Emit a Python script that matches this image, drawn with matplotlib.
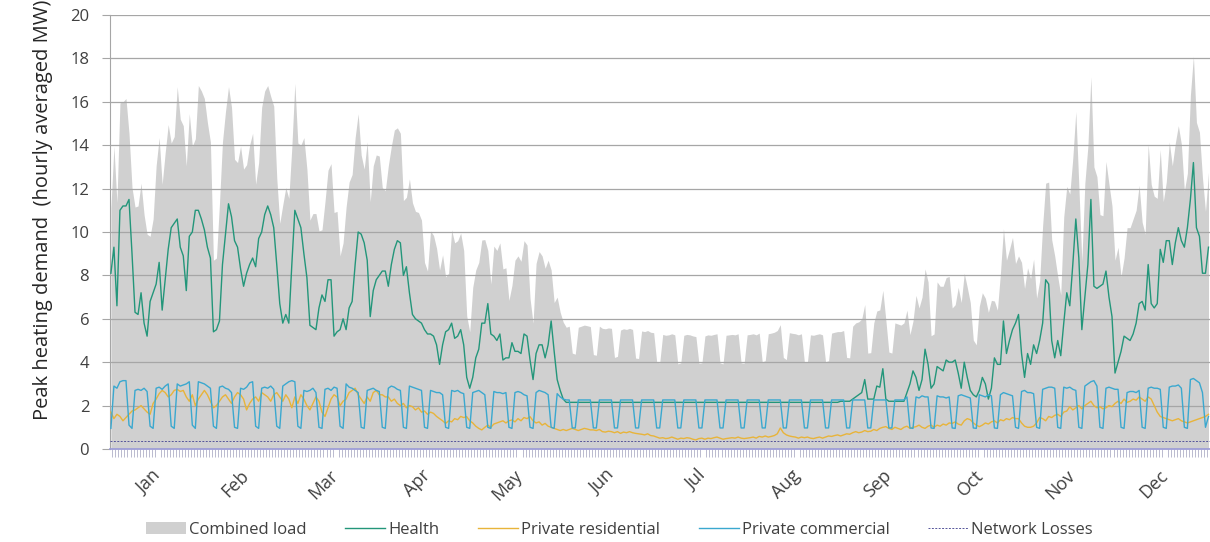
import numpy as np
import matplotlib.pyplot as plt
from matplotlib.patches import Patch
from matplotlib.lines import Line2D

# categories
months = ['Jan', 'Feb', 'Mar', 'Apr', 'May', 'Jun', 'Jul', 'Aug', 'Sep', 'Oct', 'Nov', 'Dec']
month_days = [31, 28, 31, 30, 31, 30, 31, 31, 30, 31, 30, 31]

# daily peak demand (MW), one row per month
health = [
    8.1, 9.3, 6.6, 11.0, 11.2, 11.2, 11.5, 9.0, 6.3, 6.2, 7.2, 5.8, 5.2, 6.8, 7.2, 7.6, 8.6, 6.4, 7.8, 9.2,
    10.2, 10.4, 10.6, 9.3, 8.9, 7.3, 9.8, 10.0, 11.0, 11.0, 10.6,
    10.1, 9.3, 8.8, 5.4, 5.5, 5.9, 8.5, 9.9, 11.3, 10.7, 9.6, 9.3, 8.3, 7.5, 8.1, 8.5, 8.8, 8.4, 9.7, 10.0,
    10.8, 11.2, 10.8, 10.2, 8.5, 6.7, 5.8, 6.2,
    5.8, 8.5, 11.0, 10.6, 10.2, 9.0, 7.9, 5.7, 5.6, 5.5, 6.5, 7.1, 6.8, 7.8, 7.8, 5.2, 5.4, 5.5, 6.0, 5.5,
    6.5, 6.8, 8.5, 10.0, 9.9, 9.5, 8.7, 6.1, 7.3, 7.8, 8.0,
    8.2, 8.2, 7.5, 8.5, 9.2, 9.6, 9.5, 8.0, 8.4, 7.2, 6.2, 6.0, 5.9, 5.8, 5.5, 5.3, 5.3, 5.2, 4.8, 3.9,
    4.8, 5.4, 5.5, 5.8, 5.1, 5.2, 5.5, 4.8, 3.3, 2.8,
    3.3, 4.2, 4.6, 5.8, 5.8, 6.7, 5.3, 5.2, 5.0, 5.3, 4.1, 4.2, 4.2, 4.9, 4.5, 4.5, 4.4, 5.3, 5.2, 4.1,
    3.2, 4.4, 4.8, 4.8, 4.2, 4.8, 5.9, 4.5, 3.2, 2.7, 2.3,
    2.15, 2.15, 2.15, 2.15, 2.15, 2.15, 2.15, 2.15, 2.15, 2.15, 2.15, 2.15, 2.15, 2.15, 2.15,
    2.15, 2.15, 2.15, 2.15, 2.15, 2.15, 2.15, 2.15, 2.15, 2.15, 2.15, 2.15, 2.15, 2.15, 2.15,
    2.15, 2.15, 2.15, 2.15, 2.15, 2.15, 2.15, 2.15, 2.15, 2.15, 2.15, 2.15, 2.15, 2.15, 2.15, 2.15,
    2.15, 2.15, 2.15, 2.15, 2.15, 2.15, 2.15, 2.15, 2.15, 2.15, 2.15, 2.15, 2.15, 2.15, 2.15,
    2.15, 2.15, 2.15, 2.15, 2.15, 2.15, 2.15, 2.15, 2.15, 2.15, 2.15, 2.15, 2.15, 2.15, 2.15, 2.15,
    2.15, 2.15, 2.15, 2.15, 2.15, 2.15, 2.15, 2.15, 2.15, 2.15, 2.15, 2.15, 2.15, 2.15, 2.2,
    2.2, 2.2, 2.2, 2.3, 2.4, 2.5, 2.6, 3.2, 2.3, 2.3, 2.3, 2.9, 2.85, 3.7, 2.3, 2.2, 2.2, 2.2, 2.2, 2.2,
    2.2, 2.6, 3.0, 3.6, 3.3, 2.7, 3.2, 4.6, 3.9, 2.8,
    3.0, 3.8, 3.7, 3.6, 4.1, 4.0, 4.0, 4.1, 3.5, 2.8, 4.0, 3.3, 2.7, 2.5, 2.4, 2.7, 3.3, 3.0, 2.3, 2.8,
    4.2, 3.9, 3.9, 5.9, 4.4, 5.0, 5.5, 5.8, 6.2, 4.4, 3.3,
    4.4, 3.9, 4.8, 4.4, 5.0, 5.8, 7.8, 7.6, 5.0, 4.2, 5.0, 4.3, 5.8, 7.2, 6.6, 8.5, 10.6, 8.8, 5.5, 7.0,
    8.5, 11.5, 7.5, 7.4, 7.5, 7.6, 8.2, 7.0, 6.1, 3.5,
    4.0, 4.5, 5.2, 5.1, 5.0, 5.3, 5.8, 6.7, 6.8, 6.4, 8.5, 6.7, 6.5, 6.7, 9.2, 8.6, 9.6, 9.6, 8.5, 9.5,
    10.2, 9.6, 9.3, 10.2, 11.5, 13.2, 10.2, 9.8, 8.1, 8.1, 9.3,
]

residential = [
    1.7, 1.4, 1.6, 1.5, 1.3, 1.45, 1.6, 1.75, 1.8, 1.9, 2.0, 1.85, 1.7, 1.6, 2.1, 2.3, 2.55, 2.7, 2.6, 2.4,
    2.5, 2.7, 2.75, 2.65, 2.7, 2.4, 2.2, 2.5, 2.0, 2.3, 2.5,
    2.7, 2.5, 2.2, 1.9, 2.0, 2.2, 2.4, 2.5, 2.3, 2.1, 2.4, 2.6, 2.5, 2.3, 1.8, 2.1, 2.3, 2.4, 2.2, 2.6,
    2.5, 2.4, 2.2, 2.5, 2.6, 2.4, 2.2, 2.5,
    2.3, 1.9, 2.4, 2.1, 2.5, 2.3, 2.0, 1.8, 2.1, 2.4, 2.2, 1.7, 1.5, 1.9, 2.3, 2.5, 2.4, 2.0, 2.2, 2.3,
    2.6, 2.7, 2.8, 2.5, 2.3, 2.1, 2.4, 2.2, 2.6, 2.7, 2.5,
    2.5, 2.4, 2.4, 2.2, 2.3, 2.1, 2.0, 2.1, 1.9, 2.0, 1.95, 1.8, 1.9, 1.7, 1.75, 1.6, 1.7, 1.64, 1.5, 1.4,
    1.3, 1.18, 1.3, 1.25, 1.4, 1.35, 1.5, 1.45, 1.49, 1.3,
    1.2, 1.05, 0.95, 0.88, 1.0, 1.1, 1.0, 1.15, 1.2, 1.25, 1.3, 1.2, 1.3, 1.34, 1.25, 1.4, 1.3, 1.45, 1.4, 1.49,
    1.3, 1.2, 1.25, 1.1, 1.18, 1.05, 1.0, 0.95, 0.9, 0.85, 0.9,
    0.85, 0.9, 0.95, 0.9, 0.85, 0.9, 0.95, 0.92, 0.88, 0.88, 0.85, 0.9, 0.8, 0.78, 0.82, 0.8, 0.75, 0.8, 0.72, 0.78,
    0.75, 0.8, 0.75, 0.72, 0.7, 0.68, 0.65, 0.7, 0.62, 0.6,
    0.55, 0.5, 0.52, 0.48, 0.5, 0.55, 0.5, 0.45, 0.5, 0.48, 0.52, 0.5, 0.45, 0.42, 0.48, 0.5, 0.45, 0.5, 0.48, 0.52,
    0.55, 0.5, 0.45, 0.48, 0.5, 0.52, 0.5, 0.55, 0.5, 0.48, 0.5,
    0.52, 0.55, 0.5, 0.58, 0.55, 0.6, 0.55, 0.58, 0.62, 0.7, 0.97, 0.75, 0.65, 0.6, 0.57, 0.55, 0.5, 0.55, 0.52, 0.55,
    0.5, 0.48, 0.52, 0.55, 0.5, 0.55, 0.6, 0.58, 0.62, 0.65, 0.6,
    0.65, 0.7, 0.68, 0.75, 0.8, 0.75, 0.78, 0.85, 0.8, 0.82, 0.9, 0.85, 0.95, 1.0, 1.03, 0.95, 0.9, 1.0, 0.95, 0.9,
    1.0, 1.05, 0.95, 1.0, 1.03, 1.1, 1.0, 0.95, 1.05, 1.1,
    1.0, 1.1, 1.05, 1.15, 1.1, 1.2, 1.18, 1.25, 1.15, 1.1, 1.3, 1.4, 1.35, 1.2, 1.1, 1.03, 1.1, 1.2, 1.15, 1.25,
    1.3, 1.2, 1.35, 1.3, 1.4, 1.35, 1.45, 1.4, 1.4, 1.2, 1.05,
    1.0, 1.0, 1.05, 1.2, 1.45, 1.4, 1.3, 1.5, 1.45, 1.55, 1.6, 1.5, 1.7, 1.75, 1.95, 1.8, 1.9, 2.0, 1.85, 2.0,
    2.1, 2.2, 2.0, 1.9, 1.95, 1.85, 1.9, 2.0, 1.95, 2.1,
    2.2, 2.1, 2.3, 2.15, 2.2, 2.3, 2.25, 2.4, 2.3, 2.2, 2.4, 2.3, 2.0, 1.7, 1.5, 1.45, 1.4, 1.35, 1.3, 1.35,
    1.4, 1.3, 1.25, 1.2, 1.25, 1.3, 1.35, 1.4, 1.45, 1.5, 1.6,
]

# one row per week: Sun, Mon ... Fri, Sat
commercial = [
    0.95, 2.9, 2.8, 3.1, 3.15, 3.15, 1.1,
    0.95, 2.7, 2.75, 2.7, 2.8, 2.65, 1.05,
    0.95, 2.8, 2.85, 2.75, 2.9, 3.0, 1.05,
    0.95, 3.0, 2.9, 2.95, 3.0, 3.1, 1.1,
    0.95, 3.1, 3.05, 3.0, 2.9, 2.8, 1.05,
    0.95, 2.85, 2.9, 2.8, 2.75, 2.6, 1.0,
    0.95, 2.8, 2.75, 2.85, 3.05, 3.1, 1.05,
    0.95, 2.8, 2.85, 2.8, 2.9, 2.75, 1.05,
    0.95, 2.9, 3.0, 3.1, 3.15, 3.1, 1.05,
    0.95, 2.7, 2.65, 2.7, 2.8, 2.6, 1.0,
    0.95, 2.75, 2.8, 2.7, 2.85, 2.8, 1.05,
    0.95, 3.0, 2.85, 2.8, 2.7, 2.6, 1.0,
    0.95, 2.7, 2.75, 2.8, 2.7, 2.65, 1.0,
    0.95, 2.8, 2.9, 2.85, 2.75, 2.7, 1.0,
    0.95, 2.9, 2.85, 2.8, 2.75, 2.7, 1.0,
    0.95, 2.7, 2.65, 2.6, 2.6, 2.5, 1.0,
    0.95, 2.7, 2.65, 2.7, 2.6, 2.55, 1.0,
    0.95, 2.6, 2.65, 2.7, 2.6, 2.5, 1.0,
    0.95, 2.65, 2.6, 2.6, 2.55, 2.6, 1.0,
    0.95, 2.6, 2.65, 2.6, 2.5, 2.45, 1.0,
    0.95, 2.6, 2.7, 2.65, 2.6, 2.5, 1.0,
    0.95, 2.55, 2.4, 2.3, 2.26, 2.26, 0.97,
    0.97, 2.26, 2.26, 2.26, 2.26, 2.26, 0.97,
    0.97, 2.26, 2.26, 2.26, 2.26, 2.26, 0.97,
    0.97, 2.26, 2.26, 2.26, 2.26, 2.26, 0.97,
    0.97, 2.26, 2.26, 2.26, 2.26, 2.26, 0.97,
    0.97, 2.26, 2.26, 2.26, 2.26, 2.26, 0.97,
    0.97, 2.26, 2.26, 2.26, 2.26, 2.26, 0.97,
    0.97, 2.26, 2.26, 2.26, 2.26, 2.26, 0.97,
    0.97, 2.26, 2.26, 2.26, 2.26, 2.26, 0.97,
    0.97, 2.26, 2.26, 2.26, 2.26, 2.26, 0.97,
    0.97, 2.26, 2.26, 2.26, 2.26, 2.26, 0.97,
    0.97, 2.26, 2.26, 2.26, 2.26, 2.26, 0.97,
    0.97, 2.26, 2.26, 2.26, 2.26, 2.26, 0.97,
    0.97, 2.26, 2.26, 2.26, 2.26, 2.26, 0.97,
    0.97, 2.26, 2.26, 2.26, 2.26, 2.26, 0.97,
    0.97, 2.26, 2.26, 2.26, 2.26, 2.26, 0.97,
    0.97, 2.26, 2.26, 2.26, 2.26, 2.4, 0.97,
    0.95, 2.4, 2.35, 2.45, 2.4, 2.4, 0.97,
    0.95, 2.45, 2.4, 2.4, 2.35, 2.4, 0.97,
    0.95, 2.45, 2.5, 2.45, 2.4, 2.35, 0.97,
    0.95, 2.5, 2.45, 2.4, 2.5, 2.45, 0.97,
    0.95, 2.5, 2.6, 2.55, 2.5, 2.45, 1.0,
    0.95, 2.65, 2.7, 2.6, 2.6, 2.55, 1.0,
    0.95, 2.75, 2.8, 2.85, 2.85, 2.8, 1.0,
    0.95, 2.85, 2.8, 2.85, 2.75, 2.7, 1.0,
    0.95, 2.9, 3.0, 3.1, 3.15, 2.9, 1.0,
    0.95, 2.8, 2.85, 2.8, 2.75, 2.75, 1.0,
    0.95, 2.6, 2.65, 2.65, 2.6, 2.7, 1.0,
    0.95, 2.8, 2.85, 2.8, 2.8, 2.75, 1.0,
    0.95, 2.85, 2.9, 2.9, 2.95, 2.8, 1.0,
    0.95, 3.2, 3.25, 3.15, 3.05, 2.6, 1.0,
    1.5,
]

network_losses = 0.35

assert len(health) == len(residential) == len(commercial) == sum(month_days)

days = np.arange(len(health))
losses = np.full(len(days), network_losses)
# combined load is the sum of the four parts
combined = np.vstack([health, residential, commercial, losses]).sum(axis=0)

plt.rcParams['font.family'] = ['Open Sans', 'DejaVu Sans']

fig = plt.figure(figsize=(12.1, 5.42), dpi=100)
ax = fig.add_axes([110 / 1210, 93 / 542, 1100 / 1210, 434 / 542])

grey = '#d0d0d0'
c_health = '#23967a'
c_res = '#e8b43a'
c_com = '#3aa8cf'
c_loss = '#55559a'

ax.fill_between(days, 0, combined, color=grey, lw=0, zorder=1)
ax.plot(days, health, color=c_health, lw=1.0, zorder=3)
ax.plot(days, residential, color=c_res, lw=1.0, zorder=3)
ax.plot(days, commercial, color=c_com, lw=1.0, zorder=3)
ax.axhline(network_losses, color=c_loss, lw=0.7, ls=(0, (2, 1.5)), zorder=3)

ax.set_xlim(-0.3, 364.3)
ax.set_ylim(0, 20)
ax.set_yticks(np.arange(0, 21, 2))
ax.set_axisbelow('line')
ax.yaxis.grid(True, color='#a6a6a6', lw=0.9)

starts = np.cumsum([0] + month_days[:-1])
mids = starts + np.array(month_days) / 2
ax.set_xticks(mids)
ax.set_xticklabels(months, rotation=45, ha='right', va='center', rotation_mode='anchor')
ax.set_xticks(days + 0.5, minor=True)
ax.tick_params(axis='x', which='major', length=0, pad=17, labelsize=13, labelcolor='#404040')
ax.tick_params(axis='x', which='minor', length=6, width=0.6, color='#b0b0c8')
ax.tick_params(axis='y', length=6, width=0.8, color='#a6a6a6', pad=9, labelsize=12, labelcolor='#404040')

for s in ['top', 'right']:
    ax.spines[s].set_visible(False)
ax.spines['left'].set_color('#a6a6a6')
ax.spines['bottom'].set_color('#9a9ad8')
ax.spines['bottom'].set_linewidth(1.2)

ax.set_ylabel('Peak heating demand  (hourly averaged MW)', fontsize=14.5, color='#262626')
ax.yaxis.set_label_coords(-0.052, 0.55)

handles = [
    Patch(facecolor=grey, edgecolor='none'),
    Line2D([], [], color=c_health, lw=1.0),
    Line2D([], [], color=c_res, lw=1.0),
    Line2D([], [], color=c_com, lw=1.0),
    Line2D([], [], color=c_loss, lw=0.7, ls=(0, (2, 1.5))),
]
labels = ['Combined load', 'Health', 'Private residential', 'Private commercial', 'Network Losses']
fig.legend(handles, labels, loc='center', bbox_to_anchor=(0.512, 0.022), ncol=5, frameon=False,
           fontsize=12, handlelength=2.4, handletextpad=0.2, columnspacing=2.3, labelcolor='#404040')

fig.savefig('out.png', dpi=100)
